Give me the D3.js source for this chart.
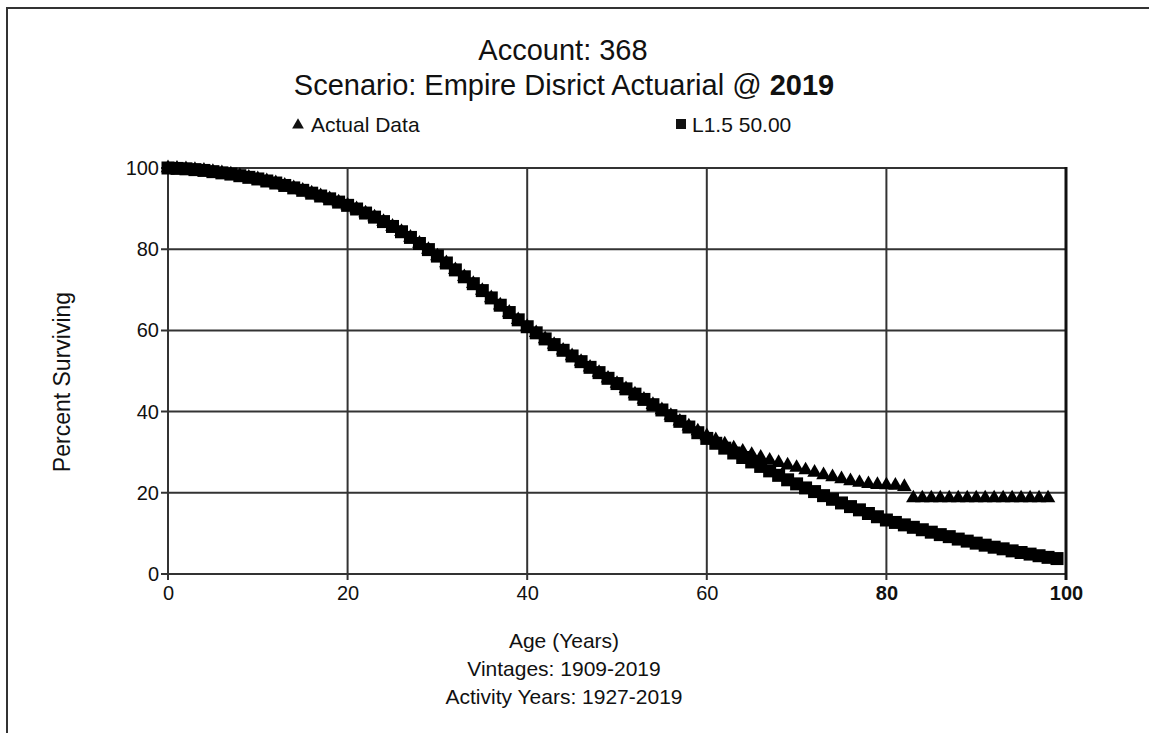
<!DOCTYPE html>
<meta charset="utf-8">
<style>
body { margin: 0; background: #fff; }
svg { display: block; font-family: "Liberation Sans", Arial, sans-serif; }
.grid line { stroke: #333; stroke-width: 2; }
.axis text { font-size: 20px; fill: #111; }
.axis path { display: none; }
.axis line { stroke: #333; stroke-width: 2; }
</style>
<svg width="1149" height="733"></svg>
<script src="https://cdn.jsdelivr.net/npm/d3@7"></script>
<script>

// ages (years) for each plotted point
var ages = [0,1,2,3,4,5,6,7,8,9,10,11,12,13,14,15,16,17,18,19,20,21,22,23,24,25,26,27,28,29,
  30,31,32,33,34,35,36,37,38,39,40,41,42,43,44,45,46,47,48,49,50,51,52,53,54,55,56,57,58,59,
  60,61,62,63,64,65,66,67,68,69,70,71,72,73,74,75,76,77,78,79,80,81,82,83,84,85,86,87,88,89,
  90,91,92,93,94,95,96,97,98,99];

// L1.5 50.00 curve, percent surviving
var curveL15 = [100,99.9,99.8,99.6,99.4,99.1,98.8,98.5,98.1,97.7,97.3,96.8,96.3,95.7,95.1,94.5,93.8,93.1,92.4,91.6,
  90.8,89.9,88.9,87.9,86.8,85.6,84.3,82.9,81.4,79.9,78.3,76.6,74.9,73.2,71.5,69.8,68.0,66.2,64.4,62.6,
  60.9,59.4,57.9,56.5,55.1,53.7,52.3,50.9,49.6,48.2,46.9,45.6,44.3,43.0,41.7,40.4,39.0,37.6,36.2,34.8,
  33.4,32.2,31.0,29.8,28.7,27.6,26.5,25.4,24.3,23.2,22.2,21.2,20.3,19.3,18.4,17.5,16.6,15.8,14.9,14.1,
  13.3,12.7,12.1,11.5,10.9,10.3,9.7,9.2,8.6,8.1,7.6,7.1,6.6,6.2,5.7,5.3,4.9,4.5,4.1,3.8];

// actual data, percent surviving (ages 0..98)
var actual = [100,99.9,99.8,99.6,99.4,99.1,98.8,98.5,98.1,97.7,97.3,96.8,96.3,95.7,95.1,94.5,93.8,93.1,92.4,91.6,
  90.8,89.9,88.9,87.9,86.8,85.6,84.3,82.9,81.4,79.9,78.3,76.6,74.9,73.2,71.5,69.8,68.0,66.2,64.4,62.6,
  60.9,59.4,57.9,56.5,55.1,53.7,52.3,50.9,49.6,48.2,46.9,45.6,44.3,43.0,41.7,40.4,39.0,37.6,36.4,35.2,
  34.0,33.0,32.0,31.0,30.2,29.4,28.7,28.0,27.4,26.8,26.2,25.6,25.0,24.4,23.9,23.4,22.9,22.5,22.2,22.0,
  21.9,21.8,21.5,18.7,18.7,18.7,18.7,18.7,18.7,18.7,18.7,18.7,18.7,18.7,18.7,18.7,18.7,18.7,18.7];

var xTicks = [0, 20, 40, 60, 80, 100];
var yTicks = [0, 20, 40, 60, 80, 100];
var titleLine1 = "Account: 368";
var titleLine2 = ["Scenario: Empire Disrict Actuarial @ ", "2019"];
var xTitleLines = ["Age (Years)", "Vintages: 1909-2019", "Activity Years: 1927-2019"];

var svg = d3.select("svg");
var margin = {left: 168, top: 168, right: 1066, bottom: 574};

var x = d3.scaleLinear().domain([0, 100]).range([margin.left, margin.right]);
var y = d3.scaleLinear().domain([0, 100]).range([margin.bottom, margin.top]);

// page frame (top and left edge only)
svg.append("path")
    .attr("d", "M7,733V8H1149")
    .attr("fill", "none")
    .attr("stroke", "#333")
    .attr("stroke-width", 2);

// titles
svg.append("text").attr("x", 563).attr("y", 60)
    .attr("text-anchor", "middle").attr("font-size", 29).attr("fill", "#111")
    .text(titleLine1);
var t2 = svg.append("text").attr("x", 564).attr("y", 95)
    .attr("text-anchor", "middle").attr("font-size", 29).attr("fill", "#111");
t2.append("tspan").text(titleLine2[0]);
t2.append("tspan").attr("font-weight", 600).text(titleLine2[1]);

// legend
var legend = svg.append("g").attr("font-size", 21).attr("fill", "#111");
legend.append("path")
    .attr("transform", "translate(298,125)")
    .attr("d", d3.symbol(d3.symbolTriangle, 60)());
legend.append("text").attr("x", 311).attr("y", 132).text("Actual Data");
legend.append("rect").attr("x", 676).attr("y", 119).attr("width", 10).attr("height", 10);
legend.append("text").attr("x", 692).attr("y", 132).text("L1.5 50.00");

// grid
var grid = svg.append("g").attr("class", "grid");
grid.selectAll(".gx").data(xTicks).enter().append("line")
    .attr("x1", function(d) { return x(d); }).attr("x2", function(d) { return x(d); })
    .attr("y1", margin.top).attr("y2", margin.bottom + 6);
grid.selectAll(".gy").data(yTicks).enter().append("line")
    .attr("x1", margin.left - 7).attr("x2", margin.right)
    .attr("y1", function(d) { return y(d); }).attr("y2", function(d) { return y(d); });

// axes labels
svg.append("g")
    .attr("class", "axis")
    .attr("transform", "translate(0," + margin.bottom + ")")
    .call(d3.axisBottom(x).tickValues(xTicks).tickSize(0).tickPadding(20))
    .selectAll("text")
      .attr("dy", "0.32em")
      .attr("font-weight", function(d) { return d >= 80 ? "bold" : null; });

svg.append("g")
    .attr("class", "axis")
    .attr("transform", "translate(" + margin.left + ",0)")
    .call(d3.axisLeft(y).tickValues(yTicks).tickSize(0).tickPadding(9));

// right border heavier
svg.append("line")
    .attr("x1", margin.right).attr("x2", margin.right)
    .attr("y1", margin.top - 1).attr("y2", margin.bottom + 6)
    .attr("stroke", "#111").attr("stroke-width", 3);

// axis titles
svg.append("text")
    .attr("transform", "translate(70,382) rotate(-90)")
    .attr("text-anchor", "middle").attr("font-size", 23).attr("fill", "#111")
    .text("Percent Surviving");

svg.selectAll(".xt").data(xTitleLines).enter().append("text")
    .attr("x", 564)
    .attr("y", function(d, i) { return 648 + i * 28; })
    .attr("text-anchor", "middle").attr("font-size", 21).attr("fill", "#111")
    .text(function(d) { return d; });

// markers
var sq = d3.symbol(d3.symbolSquare, 169);
var tri = d3.symbol(d3.symbolTriangle, 92);

svg.append("g").selectAll("path")
    .data(curveL15)
    .enter().append("path")
      .attr("d", sq)
      .attr("fill", "#000")
      .attr("transform", function(d, i) { return "translate(" + x(ages[i]) + "," + y(d) + ")"; });

svg.append("g").selectAll("path")
    .data(actual)
    .enter().append("path")
      .attr("d", tri)
      .attr("fill", "#000")
      .attr("transform", function(d, i) { return "translate(" + x(ages[i]) + "," + y(d) + ")"; });

</script>
